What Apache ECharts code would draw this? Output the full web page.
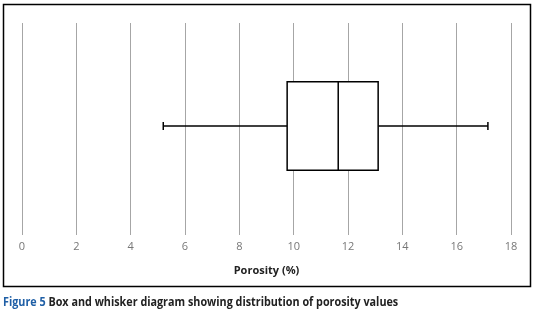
<!DOCTYPE html>
<html>
<head>
<meta charset="utf-8">
<script src="https://cdn.jsdelivr.net/npm/echarts@6/dist/echarts.min.js"></script>
<style>
  html, body { margin: 0; padding: 0; background: #fff; }
  #chart { width: 534px; height: 315px; }
</style>
</head>
<body>
<div id="chart"></div>
<script>
// porosity box plot: [min, Q1, median, Q3, max]
var categories = ['Porosity'];
var boxValues = [[5.2, 9.76, 11.64, 13.11, 17.15]];
var tickMin = 0, tickMax = 18, tickStep = 2;

var seriesData = boxValues.map(function (v, i) { return [i].concat(v); });

function renderBox(params, api) {
    var cat = api.value(0);
    var pMin = api.coord([api.value(1), cat]);
    var pQ1 = api.coord([api.value(2), cat]);
    var pMed = api.coord([api.value(3), cat]);
    var pQ3 = api.coord([api.value(4), cat]);
    var pMax = api.coord([api.value(5), cat]);
    var half = api.size([0, 1])[1] * 0.203;
    var cap = 4;
    var y = pMed[1];
    var style = { stroke: '#000', lineWidth: 1.5, fill: null };
    return {
        type: 'group',
        children: [
            { type: 'line', shape: { x1: pMin[0], y1: y, x2: pQ1[0], y2: y }, style: style },
            { type: 'line', shape: { x1: pQ3[0], y1: y, x2: pMax[0], y2: y }, style: style },
            { type: 'line', shape: { x1: pMin[0], y1: y - cap, x2: pMin[0], y2: y + cap }, style: style },
            { type: 'line', shape: { x1: pMax[0], y1: y - cap, x2: pMax[0], y2: y + cap }, style: style },
            { type: 'rect', shape: { x: pQ1[0], y: y - half, width: pQ3[0] - pQ1[0], height: half * 2 },
              style: { stroke: '#000', lineWidth: 1.5, fill: '#fff' } },
            { type: 'line', shape: { x1: pMed[0], y1: y - half, x2: pMed[0], y2: y + half }, style: style }
        ]
    };
}

var myChart = echarts.init(document.getElementById('chart'));

var option = {
    backgroundColor: '#fff',
    animation: false,
    graphic: [{
        type: 'rect',
        shape: { x: 3.5, y: 4.5, width: 527, height: 282 },
        style: { fill: 'none', stroke: '#000', lineWidth: 1.5 },
        silent: true
    }, {
        type: 'text',
        x: 3,
        y: 302,
        scaleX: 0.83,
        silent: true,
        style: {
            text: '{fig|Figure 5} {txt|Box and whisker diagram showing distribution of porosity values}',
            verticalAlign: 'middle',
            rich: {
                fig: { fontFamily: 'Open Sans', fontWeight: 'bold', fontSize: 13, fill: '#1f5fa6' },
                txt: { fontFamily: 'Open Sans', fontWeight: 'bold', fontSize: 13, fill: '#222' }
            }
        }
    }],
    grid: { left: 22, right: 23, top: 17, bottom: 80 },
    xAxis: {
        type: 'value',
        min: tickMin,
        max: tickMax,
        interval: tickStep,
        name: 'Porosity (%)',
        nameLocation: 'middle',
        nameGap: 30,
        nameTextStyle: { fontFamily: 'Open Sans', fontSize: 11, fontWeight: 'bold', color: '#222' },
        axisLine: { show: false },
        axisTick: { show: true, inside: true, length: 212, lineStyle: { color: '#a6a6a6', width: 1 } },
        axisLabel: { margin: 6, fontFamily: 'Open Sans', fontSize: 11, color: '#777' },
        splitLine: { show: false }
    },
    yAxis: {
        type: 'category',
        data: categories,
        axisLine: { show: false },
        axisTick: { show: false },
        axisLabel: { show: false }
    },
    series: [{
        type: 'custom',
        renderItem: renderBox,
        data: seriesData,
        encode: { x: [1, 2, 3, 4, 5], y: 0 },
        silent: true
    }]
};
myChart.setOption(option);
</script>
</body>
</html>
